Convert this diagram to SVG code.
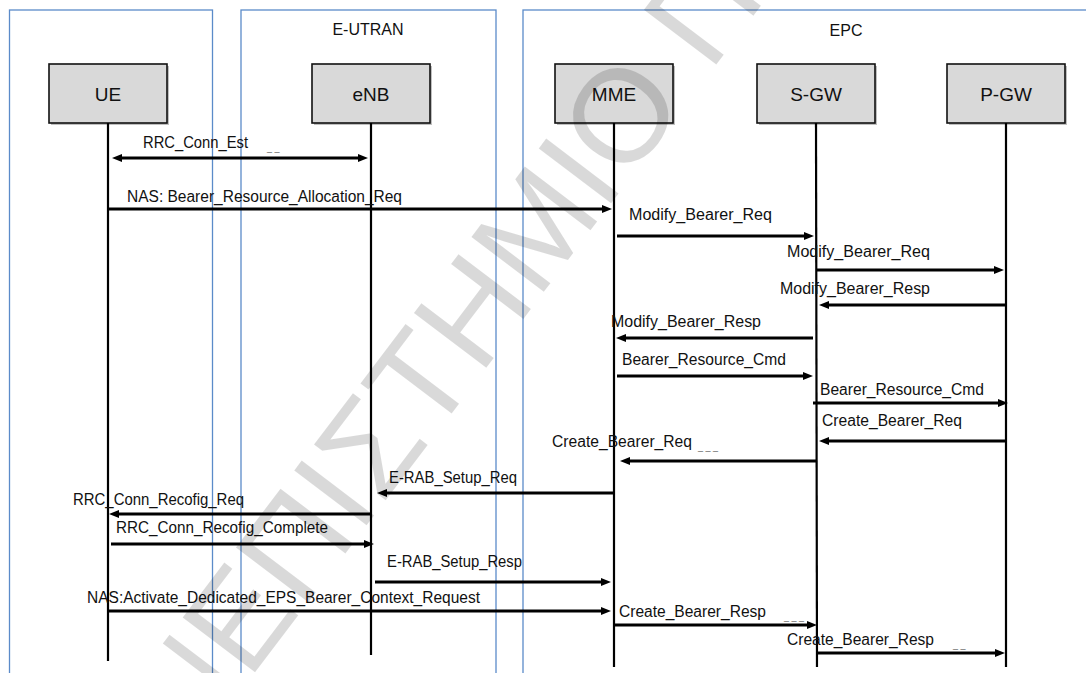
<svg xmlns="http://www.w3.org/2000/svg" width="1086" height="673" viewBox="0 0 1086 673">
<style>
.lane{fill:none;stroke:#5b8bc9;stroke-width:1.3}
.shadow{fill:#000;fill-opacity:0.25}
.box{fill:#d9d9d9;stroke:#111;stroke-width:1.6}
.life{stroke:#000;stroke-width:2.2;fill:none}
.msg{stroke:#000;stroke-width:3;fill:none;marker-end:url(#ah)}
.dbl{marker-start:url(#ah)}
.lbl{font-family:"Liberation Sans",Arial,sans-serif;font-size:16px;fill:#111}
.name{font-family:"Liberation Sans",Arial,sans-serif;font-size:19px;fill:#111;text-anchor:middle}
.grp{font-family:"Liberation Sans",Arial,sans-serif;font-size:16px;fill:#111;text-anchor:middle}
.dash{font-family:"Liberation Sans",Arial,sans-serif;font-size:9px;fill:#555}
.wm{font-family:"Liberation Sans",Arial,sans-serif;font-size:132px;fill:#000;fill-opacity:0.15}
</style>
<defs>
<marker id="ah" markerUnits="userSpaceOnUse" markerWidth="12" markerHeight="10" refX="2" refY="4" orient="auto-start-reverse">
<path d="M0,0 L10,4 L0,8 z" fill="#000"/>
</marker>
</defs>
<rect width="1086" height="673" fill="#fff"/>
<g id="lanes">
<rect class="lane" x="9.5" y="10" width="203" height="700"/>
<rect class="lane" x="241" y="10" width="255" height="700"/>
<rect class="lane" x="523" y="10" width="600" height="700"/>
<text class="grp" x="368" y="35">E-UTRAN</text>
<text class="grp" x="846" y="36">EPC</text>
</g>
<g id="UE">
<rect class="shadow" x="51" y="66" width="118" height="59"/>
<rect class="box" x="49" y="64" width="118" height="59"/>
<text class="name" x="108" y="101">UE</text>
<line class="life" x1="108" y1="123" x2="108" y2="661"/>
</g>
<g id="eNB">
<rect class="shadow" x="314" y="66" width="118" height="59"/>
<rect class="box" x="312" y="64" width="118" height="59"/>
<text class="name" x="371" y="101">eNB</text>
<line class="life" x1="371" y1="123" x2="371" y2="655"/>
</g>
<g id="MME">
<rect class="shadow" x="557" y="66" width="118" height="59"/>
<rect class="box" x="555" y="64" width="118" height="59"/>
<text class="name" x="614" y="101">MME</text>
<line class="life" x1="614" y1="123" x2="614" y2="667"/>
</g>
<g id="SGW">
<rect class="shadow" x="759" y="66" width="118" height="59"/>
<rect class="box" x="757" y="64" width="118" height="59"/>
<text class="name" x="816" y="101">S-GW</text>
<line class="life" x1="816" y1="123" x2="817" y2="667"/>
</g>
<g id="PGW">
<rect class="shadow" x="949" y="66" width="118" height="59"/>
<rect class="box" x="947" y="64" width="118" height="59"/>
<text class="name" x="1006" y="101">P-GW</text>
<line class="life" x1="1006" y1="123" x2="1006" y2="667"/>
</g>
<g id="connectors">
<line class="msg dbl" x1="120" y1="158" x2="360" y2="158"/>
<text class="lbl" x="143" y="148" textLength="105" lengthAdjust="spacingAndGlyphs">RRC_Conn_Est</text>
<text class="dash" x="267" y="151">_ _</text>

<line class="msg" x1="108" y1="209" x2="604" y2="209"/>
<text class="lbl" x="127" y="202" textLength="275" lengthAdjust="spacingAndGlyphs">NAS: Bearer_Resource_Allocation_Req</text>

<line class="msg" x1="617" y1="236" x2="806" y2="236"/>
<text class="lbl" x="629" y="220" textLength="143" lengthAdjust="spacingAndGlyphs">Modify_Bearer_Req</text>

<line class="msg" x1="817" y1="270" x2="996" y2="270"/>
<text class="lbl" x="787" y="257" textLength="143" lengthAdjust="spacingAndGlyphs">Modify_Bearer_Req</text>

<line class="msg" x1="1005" y1="305" x2="827" y2="305"/>
<text class="lbl" x="780" y="294" textLength="150" lengthAdjust="spacingAndGlyphs">Modify_Bearer_Resp</text>

<line class="msg" x1="813" y1="338" x2="624" y2="338"/>
<text class="lbl" x="611" y="327" textLength="150" lengthAdjust="spacingAndGlyphs">Modify_Bearer_Resp</text>

<line class="msg" x1="617" y1="376" x2="805" y2="376"/>
<text class="lbl" x="622" y="365" textLength="164" lengthAdjust="spacingAndGlyphs">Bearer_Resource_Cmd</text>

<line class="msg" x1="813" y1="403" x2="1000" y2="403"/>
<text class="lbl" x="820" y="395" textLength="164" lengthAdjust="spacingAndGlyphs">Bearer_Resource_Cmd</text>

<line class="msg" x1="1005" y1="441" x2="827" y2="441"/>
<text class="lbl" x="822" y="426" textLength="140" lengthAdjust="spacingAndGlyphs">Create_Bearer_Req</text>

<line class="msg" x1="816" y1="461" x2="628" y2="461"/>
<text class="lbl" x="552" y="447" textLength="140" lengthAdjust="spacingAndGlyphs">Create_Bearer_Req</text>
<text class="dash" x="698" y="450">_ _ _</text>

<line class="msg" x1="614" y1="493" x2="385" y2="493"/>
<text class="lbl" x="389" y="483" textLength="128" lengthAdjust="spacingAndGlyphs">E-RAB_Setup_Req</text>

<line class="msg" x1="371" y1="514" x2="117" y2="514"/>
<text class="lbl" x="73" y="505" textLength="171" lengthAdjust="spacingAndGlyphs">RRC_Conn_Recofig_Req</text>

<line class="msg" x1="111" y1="544" x2="366" y2="544"/>
<text class="lbl" x="116" y="533" textLength="212" lengthAdjust="spacingAndGlyphs">RRC_Conn_Recofig_Complete</text>

<line class="msg" x1="375" y1="582" x2="603" y2="582"/>
<text class="lbl" x="387" y="567" textLength="135" lengthAdjust="spacingAndGlyphs">E-RAB_Setup_Resp</text>

<line class="msg" x1="108" y1="611" x2="603" y2="611"/>
<text class="lbl" x="87" y="603" textLength="393" lengthAdjust="spacingAndGlyphs">NAS:Activate_Dedicated_EPS_Bearer_Context_Request</text>

<line class="msg" x1="614" y1="625" x2="809" y2="625"/>
<text class="lbl" x="619" y="617" textLength="147" lengthAdjust="spacingAndGlyphs">Create_Bearer_Resp</text>
<text class="dash" x="784" y="620">_ _ _</text>

<line class="msg" x1="817" y1="653" x2="997" y2="653"/>
<text class="lbl" x="787" y="645" textLength="147" lengthAdjust="spacingAndGlyphs">Create_Bearer_Resp</text>
<text class="dash" x="953" y="648">_ _</text>
</g>
<g id="watermark" transform="translate(688,102) rotate(-52.8)">
<text class="wm" x="0" y="0" text-anchor="end">ΠΑΝΕΠΙΣΤΗΜΙΟ</text>
<text class="wm" x="36" y="0">ΠΕΙΡΑΙΩΣ</text>
</g>
</svg>
